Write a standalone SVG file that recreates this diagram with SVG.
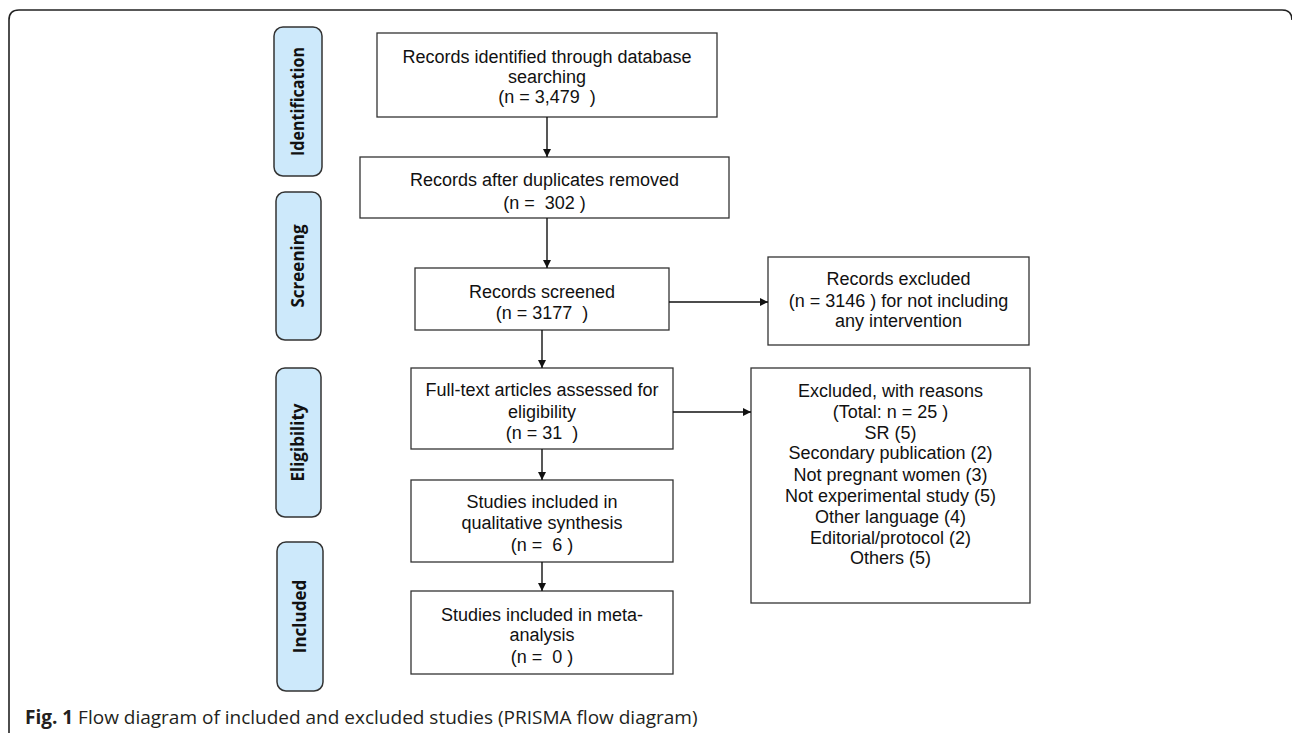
<svg xmlns="http://www.w3.org/2000/svg" width="1292" height="733" viewBox="0 0 1292 733">
<style>
.frame{fill:none;stroke:#222;stroke-width:1.6}
.pill{fill:#cde9fb;stroke:#333;stroke-width:1.5}
.plab{font-family:"Open Sans","DejaVu Sans",sans-serif;font-weight:bold;font-size:17px;fill:#111;text-anchor:middle}
.box{fill:#fff;stroke:#333;stroke-width:1.3}
.t{font-family:"Liberation Sans",Arial,sans-serif;font-size:18px;fill:#111;text-anchor:middle;white-space:pre}
.conn{stroke:#111;stroke-width:1.4;fill:none;marker-end:url(#ah)}
.cap{font-family:"Open Sans","DejaVu Sans",sans-serif;font-size:19px;fill:#231f20}
</style>
<defs>
<marker id="ah" viewBox="0 0 10 10" refX="10" refY="5" markerWidth="8" markerHeight="8" markerUnits="userSpaceOnUse" orient="auto">
<path d="M0,0 L10,5 L0,10 z" fill="#111"/>
</marker>
</defs>
<rect width="1292" height="733" fill="#fff"/>
<path class="frame" d="M9,733 V20 Q9,10 19,10 H1282 Q1292,10 1292,20"/>

<g id="phase-identification">
<rect class="pill" x="274" y="27" width="48" height="149" rx="9"/>
<text class="plab" transform="translate(304,101.5) rotate(-90)" textLength="109" lengthAdjust="spacingAndGlyphs">Identification</text>
</g>
<g id="phase-screening">
<rect class="pill" x="276" y="192" width="45" height="148" rx="9"/>
<text class="plab" transform="translate(304,266) rotate(-90)">Screening</text>
</g>
<g id="phase-eligibility">
<rect class="pill" x="276" y="368" width="45" height="149" rx="9"/>
<text class="plab" transform="translate(304,442.5) rotate(-90)">Eligibility</text>
</g>
<g id="phase-included">
<rect class="pill" x="277" y="542" width="46" height="149" rx="9"/>
<text class="plab" transform="translate(306,616.5) rotate(-90)">Included</text>
</g>

<g id="node-identified">
<rect class="box" x="377" y="33" width="340" height="84"/>
<text class="t" x="547" y="63">Records identified through database</text>
<text class="t" x="547" y="83">searching</text>
<text class="t" x="547" y="103" xml:space="preserve">(n = 3,479  )</text>
</g>
<g id="node-duplicates">
<rect class="box" x="360" y="157" width="369" height="61"/>
<text class="t" x="544.5" y="186">Records after duplicates removed</text>
<text class="t" x="544.5" y="209" xml:space="preserve">(n =  302 )</text>
</g>
<g id="node-screened">
<rect class="box" x="415" y="268" width="254" height="62"/>
<text class="t" x="542" y="298">Records screened</text>
<text class="t" x="542" y="319" xml:space="preserve">(n = 3177  )</text>
</g>
<g id="node-records-excluded">
<rect class="box" x="768" y="257" width="261" height="88"/>
<text class="t" x="898.5" y="285">Records excluded</text>
<text class="t" x="898.5" y="307">(n = 3146 ) for not including</text>
<text class="t" x="898.5" y="327">any intervention</text>
</g>
<g id="node-fulltext">
<rect class="box" x="411" y="368" width="262" height="81"/>
<text class="t" x="542" y="396">Full-text articles assessed for</text>
<text class="t" x="542" y="418">eligibility</text>
<text class="t" x="542" y="439" xml:space="preserve">(n = 31  )</text>
</g>
<g id="node-excluded-reasons">
<rect class="box" x="751" y="368" width="279" height="235"/>
<text class="t" x="890.5" y="397">Excluded, with reasons</text>
<text class="t" x="890.5" y="418">(Total: n = 25 )</text>
<text class="t" x="890.5" y="439">SR (5)</text>
<text class="t" x="890.5" y="459">Secondary publication (2)</text>
<text class="t" x="890.5" y="481">Not pregnant women (3)</text>
<text class="t" x="890.5" y="502">Not experimental study (5)</text>
<text class="t" x="890.5" y="523">Other language (4)</text>
<text class="t" x="890.5" y="544">Editorial/protocol (2)</text>
<text class="t" x="890.5" y="564">Others (5)</text>
</g>
<g id="node-qualitative">
<rect class="box" x="411" y="480" width="262" height="82"/>
<text class="t" x="542" y="508">Studies included in</text>
<text class="t" x="542" y="529">qualitative synthesis</text>
<text class="t" x="542" y="551" xml:space="preserve">(n =  6 )</text>
</g>
<g id="node-meta">
<rect class="box" x="411" y="591" width="262" height="83"/>
<text class="t" x="542" y="621">Studies included in meta-</text>
<text class="t" x="542" y="641">analysis</text>
<text class="t" x="542" y="663" xml:space="preserve">(n =  0 )</text>
</g>

<g id="connectors">
<line class="conn" x1="547" y1="117" x2="547" y2="157"/>
<line class="conn" x1="547" y1="218" x2="547" y2="268"/>
<line class="conn" x1="542" y1="330" x2="542" y2="368"/>
<line class="conn" x1="542" y1="449" x2="542" y2="480"/>
<line class="conn" x1="542" y1="562" x2="542" y2="591"/>
<line class="conn" x1="669" y1="302" x2="768" y2="302"/>
<line class="conn" x1="673" y1="412" x2="751" y2="412"/>
</g>

<text class="cap" x="25" y="724"><tspan font-weight="bold">Fig. 1</tspan> Flow diagram of included and excluded studies (PRISMA flow diagram)</text>
</svg>
